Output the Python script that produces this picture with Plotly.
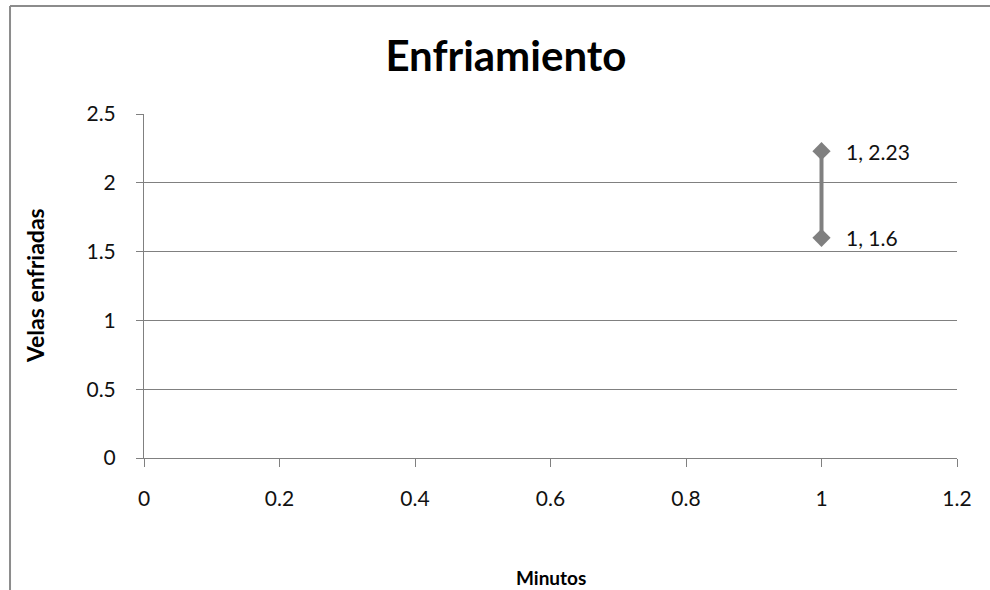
import plotly.graph_objects as go

# Cooling data: minutes vs. candles cooled
minutos = [1, 1]
velas = [2.23, 1.6]
x_ticks = [0, 0.2, 0.4, 0.6, 0.8, 1, 1.2]
y_ticks = [0, 0.5, 1, 1.5, 2, 2.5]

FONT = "Lato, Open Sans, sans-serif"
GRAY = "#808080"

fig = go.Figure()
fig.add_trace(go.Scatter(
    x=minutos, y=velas,
    mode="lines+markers",
    line=dict(color=GRAY, width=4),
    marker=dict(symbol="diamond", size=14, color=GRAY),
    cliponaxis=False,
    showlegend=False,
))

# Data labels "x, y" to the right of each point
for x, y in zip(minutos, velas):
    fig.add_annotation(x=x, y=y, text=f"{x:g}, {y:g}", showarrow=False,
                       xanchor="left", yanchor="middle", xshift=22,
                       font=dict(family=FONT, size=21, color="#111111"))

fig.update_layout(
    width=990, height=590,
    margin=dict(l=144, r=33, t=114, b=132),
    paper_bgcolor="white", plot_bgcolor="white",
    font=dict(family=FONT, size=21, color="#111111"),
    title=dict(text="<b>Enfriamiento</b>", x=0.511, xanchor="center",
               y=0.905, yanchor="middle",
               font=dict(family=FONT, size=42, color="#000000")),
)

fig.update_xaxes(
    range=[0, 1.2], tickvals=x_ticks, ticktext=[f"{v:g}" for v in x_ticks],
    showgrid=False, zeroline=False,
    showline=True, linecolor=GRAY, linewidth=1,
    ticks="outside", ticklen=8, tickcolor=GRAY, ticklabelstandoff=14,
)
fig.update_yaxes(
    range=[0, 2.5], tickvals=y_ticks, ticktext=[f"{v:g}" for v in y_ticks],
    showgrid=True, gridcolor=GRAY, gridwidth=1, zeroline=False,
    showline=True, linecolor=GRAY, linewidth=1,
    ticks="outside", ticklen=7, tickcolor=GRAY, ticklabelstandoff=16,
)

# Axis titles
fig.add_annotation(text="<b>Minutos</b>", xref="paper", yref="paper",
                   x=0.5, y=-0.347, xanchor="center", yanchor="middle",
                   showarrow=False, font=dict(family=FONT, size=19, color="#000"))
fig.add_annotation(text="<b>Velas enfriadas</b>", xref="paper", yref="paper",
                   x=-0.134, y=0.5, xanchor="center", yanchor="middle",
                   textangle=-90, showarrow=False,
                   font=dict(family=FONT, size=23, color="#000"))

# Chart frame: top and left edges, kept inside the page
frame = dict(color="#8c8c8c", width=2)
fig.add_shape(type="line", xref="paper", yref="paper",
              x0=-0.1648, y0=1.314, x1=1.041, y1=1.314, line=frame, layer="below")
fig.add_shape(type="line", xref="paper", yref="paper",
              x0=-0.1648, y0=-0.384, x1=-0.1648, y1=1.314, line=frame, layer="below")

fig.write_html("out.html")
